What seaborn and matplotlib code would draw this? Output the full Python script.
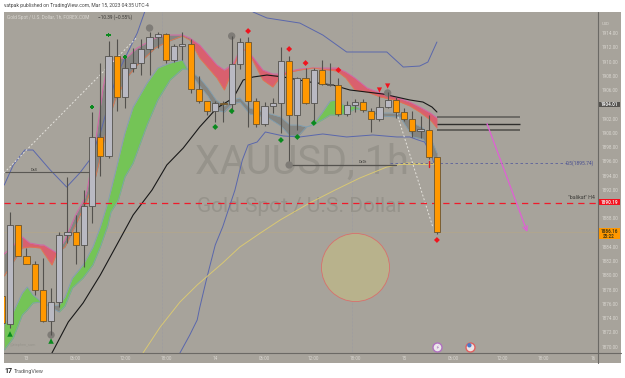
import numpy as np
import matplotlib
matplotlib.use("Agg")
import matplotlib.pyplot as plt
from matplotlib.lines import Line2D
from matplotlib.patches import Rectangle
import seaborn as sns

# Hourly XAU/USD candles; the first one is partly cut off by the left edge
candle_idx = np.arange(-1, 53)
opens = [1877.12, 1873.15, 1887.03, 1882.68, 1881.56, 1878.00, 1873.65, 1876.32, 1885.63, 1886.05, 1884.31, 1889.74,
         1899.42, 1896.75, 1910.78, 1904.98, 1909.14, 1909.75, 1911.72, 1913.40, 1913.82, 1910.17, 1912.14, 1912.50,
         1906.19, 1904.42, 1903.02, 1904.23, 1904.09, 1909.70, 1912.70, 1904.42, 1901.28, 1903.81, 1904.23, 1910.07,
         1902.46, 1907.65, 1904.23, 1908.77, 1906.65, 1906.75, 1902.60, 1903.95, 1904.28, 1903.10, 1901.90, 1903.67,
         1904.65, 1902.96, 1901.90, 1900.21, 1900.44, 1896.57]
closes = [1873.33, 1887.03, 1882.68, 1881.56, 1878.00, 1873.65, 1876.32, 1885.63, 1886.05, 1884.31, 1889.74, 1899.42,
          1896.75, 1910.78, 1904.98, 1909.14, 1909.75, 1911.72, 1913.40, 1913.82, 1910.17, 1912.14, 1912.50, 1906.19,
          1904.42, 1903.02, 1904.23, 1904.09, 1909.70, 1912.70, 1904.42, 1901.28, 1903.81, 1904.23, 1910.07, 1902.46,
          1907.65, 1904.23, 1908.77, 1906.85, 1906.85, 1902.60, 1903.95, 1904.28, 1903.16, 1901.90, 1903.67, 1904.65,
          1902.96, 1901.90, 1900.26, 1900.58, 1896.57, 1886.16]
highs = [1877.12, 1888.94, 1887.03, 1883.85, 1882.07, 1882.40, 1878.20, 1886.13, 1893.85, 1888.48, 1891.98, 1902.88,
         1909.75, 1912.92, 1913.16, 1910.92, 1911.90, 1913.12, 1914.18, 1914.14, 1914.00, 1912.46, 1914.18, 1913.12,
         1907.97, 1904.42, 1904.50, 1904.50, 1913.58, 1913.26, 1913.40, 1904.93, 1904.30, 1904.84, 1912.00, 1910.82,
         1907.79, 1909.05, 1909.05, 1910.21, 1909.79, 1907.65, 1904.40, 1904.70, 1904.70, 1903.44, 1905.21, 1905.77,
         1905.00, 1903.44, 1903.00, 1902.40, 1902.50, 1896.57]
lows = [1873.33, 1872.63, 1882.68, 1881.56, 1877.26, 1873.51, 1871.65, 1875.62, 1884.51, 1881.56, 1881.14, 1887.31,
        1893.95, 1896.43, 1903.10, 1903.44, 1908.53, 1908.11, 1908.11, 1911.90, 1909.79, 1909.98, 1910.21, 1905.54,
        1904.14, 1902.50, 1901.56, 1901.56, 1902.78, 1908.95, 1900.86, 1900.86, 1900.95, 1902.74, 1899.93, 1902.46,
        1900.40, 1904.10, 1901.38, 1906.70, 1906.57, 1902.40, 1902.40, 1902.96, 1902.90, 1900.07, 1901.70, 1903.44,
        1902.08, 1901.70, 1899.46, 1899.28, 1896.40, 1885.81]

# Moving averages: candle index and price
ema_x = [5.1, 7.1, 8.9, 11.0, 13.0, 15.0, 17.3, 19.1, 21.1, 23.1, 25.2, 27.2, 28.4, 29.6, 31.3, 33.3, 36.5, 39.3, 41.4,
         45.4, 48.7, 50.3, 51.4, 52.0]
ema_y = [1869.1, 1873.47, 1876.13, 1880.06, 1884.27, 1888.48, 1891.98, 1895.49, 1897.87, 1900.82, 1903.48, 1904.89,
         1907.41, 1907.83, 1908.11, 1907.83, 1907.13, 1906.71, 1906.01, 1905.45, 1904.61, 1904.32, 1903.62, 1902.92]
sma_x = [16.2, 18.3, 20.7, 22.8, 25.9, 28.0, 30.5, 32.9, 36.5, 39.6, 42.6, 45.9, 48.4, 50.8, 52.0]
sma_y = [1869.12, 1872.77, 1876.27, 1878.66, 1881.74, 1883.99, 1885.95, 1887.77, 1890.16, 1891.98, 1893.66, 1895.21,
         1895.77, 1895.63, 1895.77]

# Bollinger envelope; the upper line leaves the visible range between the two stretches
bb_up1_x = [-0.7, 0.4, 1.8, 2.8, 4.9, 6.9, 8.5, 9.7, 11.0, 13.0, 15.5, 16.4]
bb_up1_y = [1892.68, 1895.49, 1897.59, 1897.59, 1894.79, 1892.40, 1894.37, 1896.19, 1899.98, 1908.11, 1914.0, 1916.95]
bb_up2_x = [29.6, 31.3, 35.3, 38.1, 41.0, 43.5, 45.9, 47.9, 49.9, 50.9, 52.0]
bb_up2_y = [1916.95, 1916.11, 1915.40, 1913.72, 1911.34, 1911.34, 1911.34, 1909.23, 1909.37, 1909.93, 1912.74]
bb_lo_x = [20.7, 21.9, 22.8, 23.1, 24.0, 25.0, 25.9, 27.4, 28.3, 29.0, 30.1, 31.1, 33.3, 35.3, 38.1, 41.0, 44.2, 47.1,
           48.7, 49.7, 50.5, 51.4, 51.8]
bb_lo_y = [1869.12, 1871.65, 1873.75, 1875.43, 1879.78, 1884.27, 1886.79, 1891.98, 1896.19, 1898.29, 1898.71, 1900.12,
           1899.56, 1899.42, 1899.84, 1899.42, 1899.70, 1899.42, 1899.42, 1899.0, 1898.71, 1896.61, 1895.07]

# Fast ribbon
fast_x = [-0.7, 1.5, 2.4, 3.7, 4.1, 5.1, 5.7, 6.7, 8.0, 9.1, 9.4, 10.4, 11.3, 11.9, 12.8, 14.3, 15.5, 17.7, 19.1, 21.0,
          21.9, 23.1, 25.2, 26.1, 27.2, 28.0, 28.9, 30.8, 32.0, 32.9, 34.1, 35.3, 36.9, 39.8, 40.9, 42.0, 43.5, 45.1,
          46.9, 48.7, 49.9, 51.2, 52.0]
fast_up = [1883.01, 1885.39, 1884.55, 1884.27, 1884.27, 1883.57, 1883.15, 1884.97, 1888.48, 1890.80, 1891.98, 1898.57,
           1906.01, 1909.79, 1910.22, 1910.64, 1911.90, 1913.30, 1913.72, 1913.72, 1913.30, 1912.32, 1909.51, 1908.81,
           1909.65, 1911.62, 1911.62, 1908.81, 1908.25, 1908.25, 1908.67, 1908.95, 1909.09, 1909.09, 1908.53, 1907.69,
           1906.29, 1905.59, 1905.03, 1904.32, 1903.62, 1902.78, 1902.08]
fast_lo = [1879.92, 1883.85, 1883.99, 1883.85, 1883.15, 1881.46, 1883.15, 1883.99, 1887.07, 1889.88, 1890.58, 1893.67,
           1898.01, 1901.38, 1904.61, 1907.83, 1909.51, 1911.90, 1912.74, 1913.58, 1913.02, 1910.50, 1907.69, 1906.01,
           1909.09, 1911.62, 1911.62, 1907.41, 1906.43, 1907.83, 1908.53, 1908.81, 1909.09, 1908.67, 1907.69, 1906.01,
           1905.73, 1905.03, 1904.61, 1903.76, 1902.92, 1901.80, 1900.68]
fast_red = [(1.5, 5.7), (21.9, 52.0)]
fast_grey = [(-0.7, 1.5), (5.7, 21.9)]

# Slow ribbon
slow_x = [-0.7, 0.4, 1.5, 2.1, 2.8, 3.7, 4.9, 6.0, 6.7, 7.6, 8.9, 10.1, 11.0, 11.9, 12.3, 13.2, 14.0, 15.0, 16.7, 18.0,
          19.5, 21.0, 21.6, 23.1, 24.1, 25.1, 26.1, 27.0, 28.0, 29.2, 31.3, 33.0, 34.1, 35.1, 36.1, 36.9, 38.0, 39.0,
          39.8, 40.8, 42.0, 43.0, 45.1, 47.5, 49.1, 50.3, 51.2, 52.0]
slow_up = [1873.05, 1874.87, 1877.54, 1878.38, 1877.26, 1876.41, 1875.71, 1875.85, 1876.98, 1879.64, 1881.46, 1883.99,
           1886.79, 1890.16, 1891.98, 1896.19, 1899.98, 1903.62, 1906.99, 1909.09, 1909.79, 1910.22, 1908.95, 1907.69,
           1906.29, 1904.61, 1903.76, 1904.61, 1904.89, 1903.48, 1902.78, 1902.22, 1901.10, 1901.10, 1900.82, 1901.10,
           1902.78, 1904.47, 1904.61, 1903.76, 1903.76, 1903.20, 1902.78, 1902.78, 1901.38, 1900.68, 1899.42, 1897.17]
slow_lo = [1869.54, 1871.23, 1874.45, 1875.15, 1876.13, 1876.27, 1875.57, 1874.87, 1875.71, 1878.24, 1879.64, 1881.46,
           1883.99, 1886.93, 1888.90, 1890.58, 1893.81, 1895.77, 1901.10, 1904.61, 1907.41, 1908.95, 1908.95, 1906.57,
           1905.17, 1903.20, 1902.92, 1904.04, 1904.32, 1902.64, 1902.22, 1900.96, 1899.56, 1899.56, 1900.82, 1901.10,
           1901.80, 1902.50, 1902.50, 1902.64, 1903.34, 1903.20, 1902.36, 1902.22, 1899.42, 1899.14, 1897.59, 1895.35]
slow_green = [(-0.7, 4.9), (6.0, 21.6), (36.9, 43.0)]
slow_grey = [(4.9, 6.0), (21.6, 36.9), (43.0, 52.0)]

# Signal markers
arrow_up_x, arrow_up_y = [10, 12, 14], [1903.62, 1913.72, 1910.64]
dot_green_x, dot_green_y = [25, 27, 33, 35, 37], [1900.82, 1903.06, 1898.99, 1899.42, 1901.38]
dia_red_x, dia_red_y = [29, 34, 36, 40, 52], [1914.28, 1911.76, 1909.79, 1908.81, 1884.97]
tri_red_x, tri_red_y = [45, 46], [1906.01, 1906.57]
tri_green_x, tri_green_y = [0, 5], [1871.79, 1870.80]
pivot_x, pivot_y = [17, 27, 46, 5, 34], [1914.70, 1913.58, 1905.59, 1871.65, 1895.49]

# Horizontal levels
level_bands = [1902.22, 1901.28, 1900.40]
level_half = 1895.74
level_balikat = 1890.19
last_price = 1886.16
tag_dark = 1904.01

price_ticks = [p for p in range(1870, 1916, 2) if p not in (1886, 1890, 1904)]
time_pos = [2, 8, 14, 19, 25, 31, 37, 42, 48, 54, 60, 65, 71]
time_lab = ["13", "06:00", "12:00", "18:00", "14", "06:00", "12:00", "18:00", "15", "06:00", "12:00", "18:00", "16"]

BG = "#a7a39b"
WICK = "#53514d"
TICK = "#dad7d1"
W, H = 625, 378

sns.set_theme(style="white")
plt.rcParams["font.family"] = ["Roboto", "DejaVu Sans"]

fig = plt.figure(figsize=(W / 100, H / 100), dpi=100, facecolor="white")
fig.add_artist(Rectangle((4 / W, 1 - 362.7 / H), 616.7 / W, 351.2 / H, transform=fig.transFigure,
                         facecolor=BG, edgecolor="none", zorder=-5))
ax = fig.add_axes([4 / W, 1 - 352.7 / H, 594 / W, 341.2 / H])
ax.set_facecolor(BG)
for s in ax.spines.values():
    s.set_visible(False)

# Session grid and last-price guide
for gx in (18.5, 41.66):
    ax.axvline(gx, color="#9a9aa2", lw=0.5, ls=(0, (1, 1)), zorder=1)
ax.axhline(last_price, color="#b7a786", lw=0.4, zorder=1)

ax.text(35.5, 1895.9, "XAUUSD, 1h", fontsize=28.5, color="#96938b", ha="center", va="center", zorder=1)
ax.text(35.3, 1889.6, "Gold Spot / U.S. Dollar", fontsize=15, color="#96938b", ha="center", va="center", zorder=1)


def fill_ranges(x, up, lo, ranges, color):
    x, up, lo = map(np.asarray, (x, up, lo))
    for a, b in ranges:
        ax.fill_between(x, lo, up, where=(x >= a) & (x <= b), color=color, lw=0, zorder=2)


fill_ranges(slow_x, slow_up, slow_lo, slow_green, "#74c456")
fill_ranges(slow_x, slow_up, slow_lo, slow_grey, "#858581")
fill_ranges(fast_x, fast_up, fast_lo, fast_grey, "#858581")
fill_ranges(fast_x, fast_up, fast_lo, fast_red, "#d9606e")


def trace(x, y, color, lw, z=3):
    sns.lineplot(x=x, y=y, ax=ax, color=color, lw=lw, estimator=None, sort=False, zorder=z, legend=False)


trace(slow_x, slow_up, "#7f9fb2", 0.6)
trace(slow_x, slow_lo, "#7f9fb2", 0.6)
trace(fast_x, fast_up, "#d462a6", 0.7)
trace(fast_x, fast_lo, "#e0784e", 0.6)
trace(bb_up1_x, bb_up1_y, "#5a67ac", 0.7)
trace(bb_up2_x, bb_up2_y, "#5a67ac", 0.7)
trace(bb_lo_x, bb_lo_y, "#5a67ac", 0.7)
trace(sma_x, sma_y, "#d9c873", 0.7)
trace(ema_x, ema_y, "#191919", 0.8)

# Candles
o = np.array(opens)
c = np.array(closes)
hi = np.array(highs)
lo = np.array(lows)
rising = c >= o
ax.vlines(candle_idx, lo, hi, color=WICK, lw=0.8, zorder=4)
body_lo = np.minimum(o, c)
body_h = np.abs(c - o)
ax.bar(candle_idx[rising], body_h[rising], bottom=body_lo[rising], width=0.75,
       color="#b9b9c2", edgecolor=WICK, lw=0.6, zorder=5)
ax.bar(candle_idx[~rising], body_h[~rising], bottom=body_lo[~rising], width=0.75,
       color="#ff9800", edgecolor="#6b5530", lw=0.6, zorder=5)

# Drawn levels and trend lines
ax.hlines(level_bands, 52, 62.1, color=["#5c5a56", "#2f2e2c", "#5c5a56"], lw=[1.1, 1.0, 1.3], zorder=3)
ax.hlines(1894.51, -0.73, 9.8, color="#5a5853", lw=0.8, zorder=3)
ax.text(2.9, 1894.85, "DsS", fontsize=2.8, color="#3c3b38", ha="center", va="center", zorder=3)
ax.plot([34, 34], [1895.5, 1902.46], color=WICK, lw=0.8, zorder=3)
ax.plot([34, 47], [1895.5, 1895.5], color="#55534f", lw=0.9, zorder=3)
ax.text(43.0, 1895.95, "DxDt", fontsize=2.8, color="#3c3b38", ha="center", va="center", zorder=3)
ax.plot([46.3, 67.8], [level_half, level_half], color="#5a5f9a", lw=0.6, ls=(0, (3, 3)), zorder=3)
ax.text(71.1, level_half, f"0.5({level_half})", fontsize=3.6, color="#4a5090", ha="right", va="center", zorder=3)
ax.plot([47.5, 51.8], [1895.6, 1895.6], color="#d9c873", lw=0.6, zorder=3)
ax.plot([51, 51], [1895.2, 1896.0], color="#e02020", lw=1.0, zorder=6)
ax.plot([-0.73, 15.5], [1894.37, 1913.44], color="#e4e2dc", lw=0.7, ls=(0, (2, 2)), zorder=3)
ax.plot([47.1, 51.5], [1902.78, 1886.79], color="#e4e2dc", lw=0.7, ls=(0, (2, 2)), zorder=3)
ax.axhline(level_balikat, color="#f01a2a", lw=0.9, ls=(0, (5, 4)), zorder=4)
ax.text(71.3, 1890.95, "\"balikat\" H4", fontsize=3.8, color="#3c3b38", ha="right", va="center", zorder=4)
ax.annotate("", xy=(63.0, 1886.1), xytext=(58.1, 1901.28), zorder=6,
            arrowprops=dict(arrowstyle="->", color="#e05fd5", lw=0.9, mutation_scale=8, shrinkA=0, shrinkB=0))

# Signals and pivots
sns.scatterplot(x=[42.0], y=[1881.18], ax=ax, s=2400, color="#b8b28c", edgecolor="#d8706c", lw=0.6, zorder=3, legend=False)
sns.scatterplot(x=pivot_x, y=pivot_y, ax=ax, s=28, color="#7f7c77", edgecolor="none", zorder=3.5, legend=False)
sns.scatterplot(x=arrow_up_x, y=arrow_up_y, ax=ax, s=10, marker="P", color="#0a8a1e", edgecolor="none", zorder=6, legend=False)
sns.scatterplot(x=dot_green_x, y=dot_green_y, ax=ax, s=9, marker="D", color="#0a8a1e", edgecolor="none", zorder=6, legend=False)
sns.scatterplot(x=dia_red_x, y=dia_red_y, ax=ax, s=9, marker="D", color="#f0141e", edgecolor="none", zorder=6, legend=False)
sns.scatterplot(x=tri_red_x, y=tri_red_y, ax=ax, s=14, marker="v", color="#f0141e", edgecolor="none", zorder=6, legend=False)
sns.scatterplot(x=tri_green_x, y=tri_green_y, ax=ax, s=16, marker="^", color="#0a8a1e", edgecolor="none", zorder=6, legend=False)

# Economic event badges on the time axis
sns.scatterplot(x=[52], y=[1869.96], ax=ax, s=42, color="#ece8ec", edgecolor="#b070c0", lw=1.0, zorder=6, legend=False)
ax.text(52, 1869.96, "\u26a1", fontsize=3.5, color="#a060b8", ha="center", va="center", zorder=7)
sns.scatterplot(x=[56], y=[1869.96], ax=ax, s=42, color="#ece4e4", edgecolor="#e06060", lw=1.0, zorder=6, legend=False)
sns.scatterplot(x=[55.95], y=[1870.2], ax=ax, s=10, color="#4a78c8", edgecolor="none", zorder=7, legend=False)

ax.set_xlim(-0.731, 71.62)
ax.set_ylim(1869.16, 1917.02)

# Price scale
ax.yaxis.tick_right()
ax.set_yticks(price_ticks)
ax.set_yticklabels([f"{p:.2f}" for p in price_ticks], fontsize=3.3, color=TICK)
ax.tick_params(axis="y", length=0, pad=2.8)
ax.text(72.05, 1915.2, "USD", fontsize=3.0, color=TICK, va="center", ha="left", clip_on=False)

# Time scale
ax.set_xticks(time_pos)
ax.set_xticklabels(time_lab, fontsize=3.3, color=TICK)
ax.tick_params(axis="x", length=0, pad=2.2)
ax.set_xlabel("")
ax.set_ylabel("")

fig.add_artist(Line2D([4 / W, 620.7 / W], [1 - 352.7 / H] * 2, color="#6b6965", lw=0.8, transform=fig.transFigure))
fig.add_artist(Line2D([598 / W] * 2, [1 - 11.5 / H, 1 - 362.7 / H], color="#6b6965", lw=0.8, transform=fig.transFigure))


def price_tag(low, high, text, bg, fg, fs=3.3):
    ax.add_patch(Rectangle((71.70, low), 2.55, high - low, facecolor=bg, edgecolor="none", clip_on=False, zorder=8))
    ax.text(72.97, (low + high) / 2, text, fontsize=fs, color=fg, ha="center", va="center", clip_on=False,
            zorder=9, linespacing=1.1, fontweight="bold")


price_tag(1889.84, 1890.68, f"{level_balikat:.2f}", "#f5101e", "#f4e4e4")
price_tag(1885.07, 1886.61, f"{last_price:.2f}\n25:22", "#ff9800", "#4a3a10")
price_tag(1903.58, 1904.37, f"{tag_dark:.2f}", "#55534f", "#f0f0f0")

# Header, legend and footer
fig.text(4 / W, 1 - 6 / H, "vatpak published on TradingView.com, Mar 15, 2023 04:35 UTC-4", fontsize=3.65,
         color="#444444", ha="left", va="center")
fig.text(7 / W, 1 - 17.5 / H, "Gold Spot / U.S. Dollar, 1h, FOREX.COM", fontsize=3.4, color="#dad7d1", ha="left", va="center")
fig.text(98 / W, 1 - 17.5 / H, "\u221210.39 (\u22120.55%)", fontsize=3.4, color="#3a3936", ha="left", va="center")
fig.text(10 / W, 1 - 345 / H, "@stephen_sam", fontsize=2.8, color="#96938b", ha="left", va="center", alpha=0.9)
fig.text(4 / W, 1 - 371 / H, "17", fontsize=5, color="#222222", fontweight="bold", ha="left", va="center")
fig.text(14 / W, 1 - 371 / H, "TradingView", fontsize=3.9, color="#555555", ha="left", va="center")

fig.savefig("out.png", dpi=100)
